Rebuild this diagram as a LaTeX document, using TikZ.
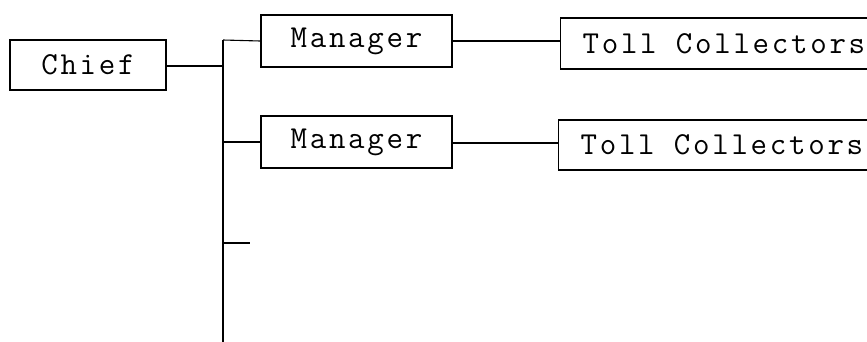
\documentclass[tikz,border=0pt]{standalone}
\usepackage{fontspec}
\setmonofont{Latin Modern Mono}[LetterSpace=8.5]
\begin{document}
\begin{tikzpicture}[x=1pt,y=-1pt,
  line width=1.3pt,
  box/.style={draw,rectangle,inner sep=0pt,font=\ttfamily\fontsize{32}{32}\selectfont},
  link/.style={line width=1.1pt}]
\path[use as bounding box,clip] (0,0) rectangle (867,341);

% boxes
\node[box,minimum width=156pt,minimum height=50pt] (chief) at (88,65) {Chief};
\node[box,minimum width=191pt,minimum height=52pt] (m1) at (356.5,41) {Manager};
\node[box,minimum width=191pt,minimum height=52pt] (m2) at (356.5,142) {Manager};
\node[box,anchor=west,minimum height=51pt,inner xsep=22pt] (t1) at (560,43.5) {Toll Collectors};
\node[box,anchor=west,minimum height=50pt,inner xsep=22pt] (t2) at (558,145) {Toll Collectors};

% trunk and branch points
\coordinate (top) at (223,40);
\coordinate (bot) at (223,345);
\coordinate (j0) at (223,66);
\coordinate (j2) at (223,142);
\coordinate (j3) at (223,243);
\coordinate (s3) at (250,243);

\draw[line width=1.4pt] (top) -- (bot);
\draw[link] (chief.east |- j0) -- (j0);
\draw[link] (top) -- (m1.west);
\draw[link] (j2) -- (m2.west);
\draw[link] (j3) -- (s3);
\draw[link] (m1.east) -- (m1.east -| t1.west);
\draw[link] (m2.east |- 0,143) -- (t2.west |- 0,143);
\end{tikzpicture}
\end{document}
